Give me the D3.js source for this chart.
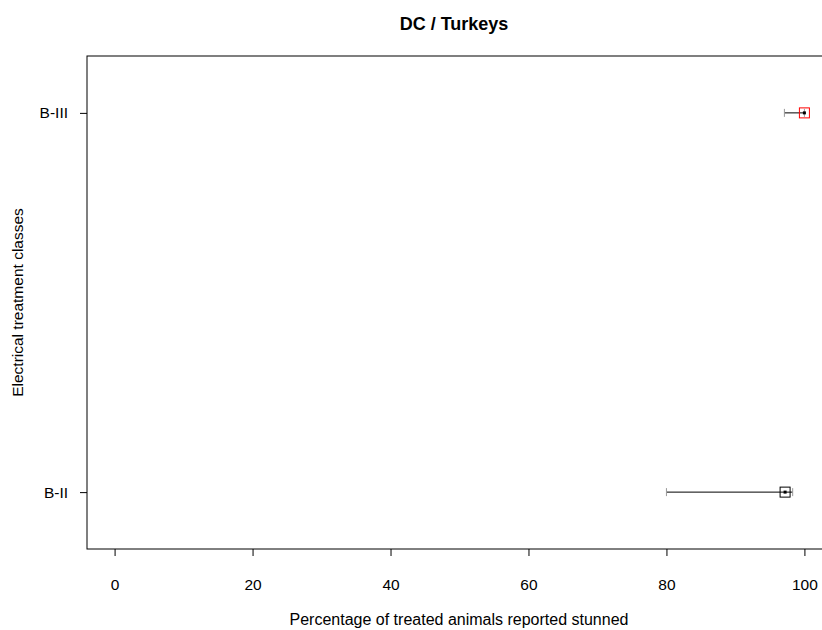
<!DOCTYPE html>
<html><head><meta charset="utf-8">
<script src="https://cdn.jsdelivr.net/npm/d3@7"></script>
<style>body{margin:0;background:#fff}svg{display:block}text{font-family:"Liberation Sans",Arial,sans-serif}</style>
</head><body><svg id="c" width="822" height="630"></svg>
<script>
const categories = ["B-II", "B-III"];
const estimates = [97.2, 100];
const lowerCI = [80, 97.1];
const upperCI = [98.3, 100];
const boxColors = ["#000000", "#ff0000"];
const xTicks = [0, 20, 40, 60, 80, 100];

(function () {
const svg = d3.select("#c");
const pL = 87, pT = 56, pR = 832, pB = 549;
const x = d3.scaleLinear().domain([-4, 104]).range([pL, pR]);
const y = d3.scaleLinear().domain([0.85, 2.15]).range([pB, pT]);
const FF = "Liberation Sans, Arial, sans-serif";

svg.append("rect").attr("x", pL).attr("y", pT).attr("width", pR - pL).attr("height", pB - pT)
  .attr("fill", "none").attr("stroke", "#000").attr("stroke-width", 1);

const xa = svg.append("g").attr("transform", `translate(0,${pB})`)
  .call(d3.axisBottom(x).tickValues(xTicks).tickSize(7).tickPadding(23).tickFormat(d3.format("d")));
xa.select(".domain").remove();
xa.selectAll("text").attr("font-size", 15.5).attr("fill", "#000").attr("font-family", FF);

const ya = svg.append("g").attr("transform", `translate(${pL},0)`)
  .call(d3.axisLeft(y).tickValues([1, 2]).tickSize(7).tickPadding(12).tickFormat((d) => categories[d - 1]));
ya.select(".domain").remove();
ya.selectAll("text").attr("font-size", 15.5).attr("fill", "#000").attr("font-family", FF);

const rows = categories.map((c, i) => ({c, i, est: estimates[i], lo: lowerCI[i], hi: upperCI[i], col: boxColors[i]}));
const g = svg.append("g");
rows.forEach(r => {
  const yy = y(r.i + 1);
  g.append("line").attr("x1", x(r.lo)).attr("x2", x(r.hi)).attr("y1", yy).attr("y2", yy).attr("stroke", "#000").attr("stroke-width", 1);
  [r.lo, r.hi].forEach(v => {
    g.append("line").attr("x1", x(v)).attr("x2", x(v)).attr("y1", yy - 4).attr("y2", yy + 4).attr("stroke", "#999").attr("stroke-width", 1);
  });
  g.append("rect").attr("x", x(r.est) - 5).attr("y", yy - 5).attr("width", 10).attr("height", 10)
    .attr("fill", "none").attr("stroke", r.col).attr("stroke-width", 1);
  g.append("rect").attr("x", x(r.est) - 1.5).attr("y", yy - 1.5).attr("width", 3).attr("height", 3).attr("fill", "#000");
});

svg.append("text").attr("x", 454).attr("y", 30).attr("text-anchor", "middle").attr("font-weight", "bold").attr("font-size", 18).attr("font-family", FF).text("DC / Turkeys");
svg.append("text").attr("x", 459).attr("y", 625).attr("text-anchor", "middle").attr("font-size", 16).attr("font-family", FF).text("Percentage of treated animals reported stunned");
svg.append("text").attr("transform", `translate(23,${(pT + pB) / 2}) rotate(-90)`).attr("text-anchor", "middle").attr("font-size", 15.5).attr("font-family", FF).text("Electrical treatment classes");
})();
</script></body></html>
